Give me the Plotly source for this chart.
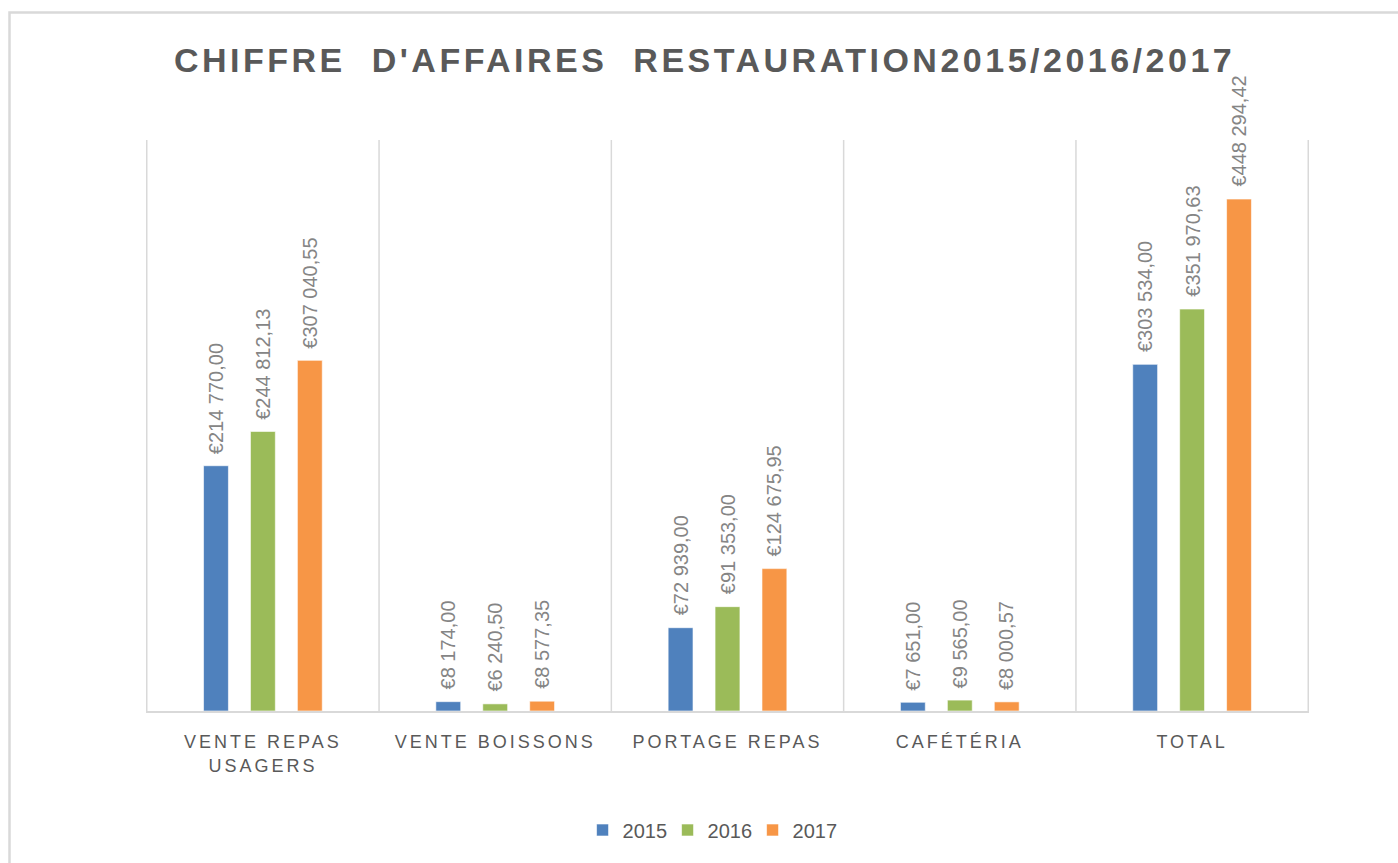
import plotly.graph_objects as go

# Chiffre d'affaires par activité et par année
categories = ["VENTE REPAS<br>USAGERS", "VENTE BOISSONS", "PORTAGE REPAS", "CAFÉTÉRIA", "TOTAL"]
years = ["2015", "2016", "2017"]
ca_2015 = [214770.00, 8174.00, 72939.00, 7651.00, 303534.00]
ca_2016 = [244812.13, 6240.50, 91353.00, 9565.00, 351970.63]
ca_2017 = [307040.55, 8577.35, 124675.95, 8000.57, 448294.42]
series = [ca_2015, ca_2016, ca_2017]
colors = ["#4F81BD", "#9BBB59", "#F79646"]

title_text = "CHIFFRE\u00a0 D'AFFAIRES\u00a0 RESTAURATION2015/2016/2017"

BARGAP = 0.394
BARGROUPGAP = 0.47


def euro(v):
    s = f"{v:,.2f}"
    return "€" + s.replace(",", "\u00a0").replace(".", ",")


fig = go.Figure()
for year, vals, col in zip(years, series, colors):
    fig.add_trace(go.Bar(
        name=year, x=categories, y=vals,
        marker=dict(color=col, line=dict(color="rgba(255,255,255,0.6)", width=1)),
        hoverinfo="skip",
    ))

# value labels, rotated, above each bar
slot = (1 - BARGAP) / len(series)
annotations = []
for j, vals in enumerate(series):
    for i, v in enumerate(vals):
        annotations.append(dict(
            x=i + (j - (len(series) - 1) / 2) * slot, y=v,
            xref="x", yref="y",
            text=euro(v), textangle=-90, showarrow=False,
            xanchor="center", yanchor="bottom", yshift=10,
            font=dict(family="Liberation Sans, Arial, sans-serif", size=20, color="#858585"),
        ))

# vertical separators between categories
shapes = []
for k in range(len(categories) + 1):
    shapes.append(dict(type="line", xref="x", yref="paper",
                       x0=k - 0.5, x1=k - 0.5, y0=0, y1=1,
                       line=dict(color="#d9d9d9", width=1.5), layer="below"))

# chart frame
W, H = 1398, 863
ML, MR, MT, MB = 146, 89, 140, 152
pw, ph = W - ML - MR, H - MT - MB


def px_x(px):
    return (px - ML) / pw


def px_y(py):
    return (H - MB - py) / ph


shapes.append(dict(type="rect", xref="paper", yref="paper",
                   x0=px_x(9.5), x1=px_x(1420), y0=px_y(900), y1=px_y(12.5),
                   line=dict(color="#d9d9d9", width=2.5), fillcolor="rgba(0,0,0,0)"))

fig.update_layout(
    width=W, height=H,
    margin=dict(l=ML, r=MR, t=MT, b=MB),
    paper_bgcolor="white", plot_bgcolor="white",
    barmode="group", bargap=BARGAP, bargroupgap=BARGROUPGAP,
    title=dict(text=title_text, x=0.504, xanchor="center", y=1 - 60 / H, yanchor="middle",
               font=dict(family="Liberation Sans, Arial, sans-serif", size=34, color="#595959", weight="bold")),
    xaxis=dict(showgrid=False, showline=True, linecolor="#d9d9d9", linewidth=1.5,
               ticks="", ticklabelstandoff=14,
               tickfont=dict(family="Liberation Sans, Arial, sans-serif", size=18, color="#595959")),
    yaxis=dict(visible=False, range=[0, 500000]),
    legend=dict(orientation="h", x=0.485, xanchor="center", y=px_y(830), yanchor="middle",
                itemwidth=30, entrywidth=40, entrywidthmode="pixels", traceorder="normal",
                font=dict(family="Liberation Sans, Arial, sans-serif", size=20, color="#595959")),
    annotations=annotations,
    shapes=shapes,
)

post = """
var gd = document.getElementById('{plot_id}');
function spacing(){
  gd.querySelectorAll('.xtick text').forEach(function(t){ t.style.letterSpacing = '3px'; });
  gd.querySelectorAll('.gtitle').forEach(function(t){ t.style.letterSpacing = '3.5px'; });
}
spacing();
gd.on('plotly_afterplot', spacing);
"""
fig.write_html("out.html", post_script=post)
